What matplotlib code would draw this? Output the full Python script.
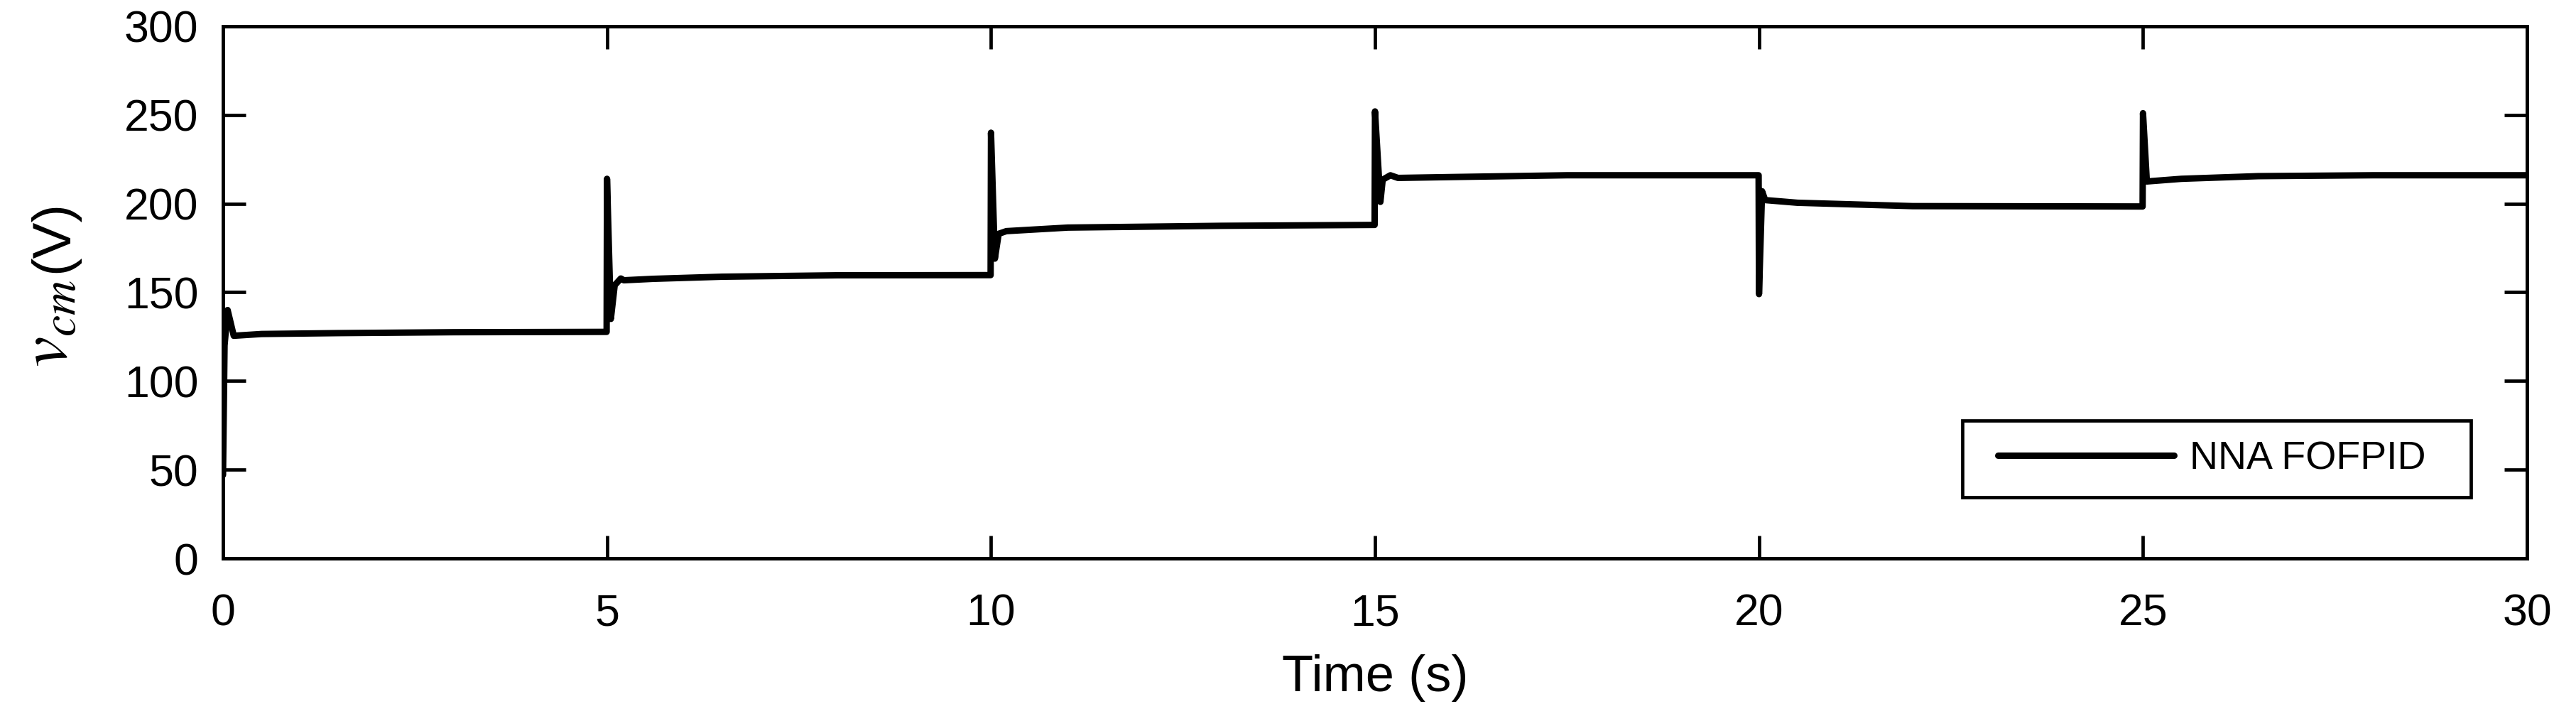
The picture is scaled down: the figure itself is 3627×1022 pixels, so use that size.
import matplotlib
matplotlib.use('Agg')
import matplotlib.pyplot as plt
from matplotlib.patches import Rectangle

plt.rcParams['font.family'] = ['Liberation Sans', 'DejaVu Sans']
plt.rcParams['mathtext.fontset'] = 'stix'

# breakpoints of the v_cm trace
time_s = [0.0, 0.02, 0.06, 0.14, 0.5, 1.5, 3.0, 4.995,
          5.0, 5.05, 5.1, 5.18, 5.22, 5.6, 6.5, 8.0, 9.995,
          10.0, 10.05, 10.1, 10.2, 11.0, 13.0, 14.995,
          15.0, 15.07, 15.1, 15.2, 15.3, 16.0, 17.5, 19.995,
          20.0, 20.04, 20.08, 20.5, 22.0, 24.995,
          25.0, 25.05, 25.5, 26.5, 28.0, 30.0]
v_cm = [47, 120, 140, 125.5, 126.5, 127, 127.5, 127.7,
        214, 135, 154, 157.8, 156.8, 157.6, 158.8, 159.6, 159.7,
        240, 169, 183, 184.5, 186.5, 187.5, 188,
        252, 201, 213.5, 216, 214.5, 215, 216, 216,
        149, 207, 202, 200.5, 198.6, 198.4,
        251, 212.5, 214, 215.5, 216, 216]

x_ticks = [0, 5, 10, 15, 20, 25, 30]
y_ticks = [0, 50, 100, 150, 200, 250, 300]
series_name = 'NNA FOFPID'

W, H = 3627, 1022
fig = plt.figure(figsize=(W / 100, H / 100), dpi=100)
ax = fig.add_axes([314 / W, 1 - 786 / H, 3244 / W, 749 / H])

ax.plot(time_s, v_cm, color='black', lw=6.5, solid_joinstyle='round',
        solid_capstyle='round', label=series_name)
ax.set_xlim(0, 30)
ax.set_ylim(0, 300)
ax.set_xticks(x_ticks)
ax.set_yticks(y_ticks)
ax.tick_params(direction='in', length=23, width=3.4, labelsize=45,
               top=True, right=True)
ax.tick_params(axis='x', pad=35)
ax.tick_params(axis='y', pad=25)
for sp in ax.spines.values():
    sp.set_linewidth(3.6)

ax.set_xlabel('Time (s)', fontsize=52, labelpad=20)

# legend: frameless entry plus a box like the MATLAB one
ax.add_patch(Rectangle((0.7549, 0.1148), 0.2207, 0.1442, transform=ax.transAxes,
                       facecolor='white', edgecolor='black', lw=3.4, zorder=4))
leg = ax.legend(loc='center left', bbox_to_anchor=(0.7703, 0.1869), frameon=False,
                borderpad=0, borderaxespad=0, handlelength=4.46, handletextpad=0.41,
                fontsize=40)
leg.set_zorder(5)

# y label: italic v_cm then (V)
t1 = fig.text(95 / W, 1 - 517 / H, r'$v_{cm}$', rotation=90, rotation_mode='anchor',
              ha='left', va='baseline', fontsize=70)
r = fig.canvas.get_renderer()
bb = t1.get_window_extent(renderer=r)
fig.text(95 / W, (bb.y1 + 10) / H, '(V)', rotation=90, rotation_mode='anchor',
         ha='left', va='baseline', fontsize=55)

fig.savefig('out.png', dpi=100, facecolor='white')
